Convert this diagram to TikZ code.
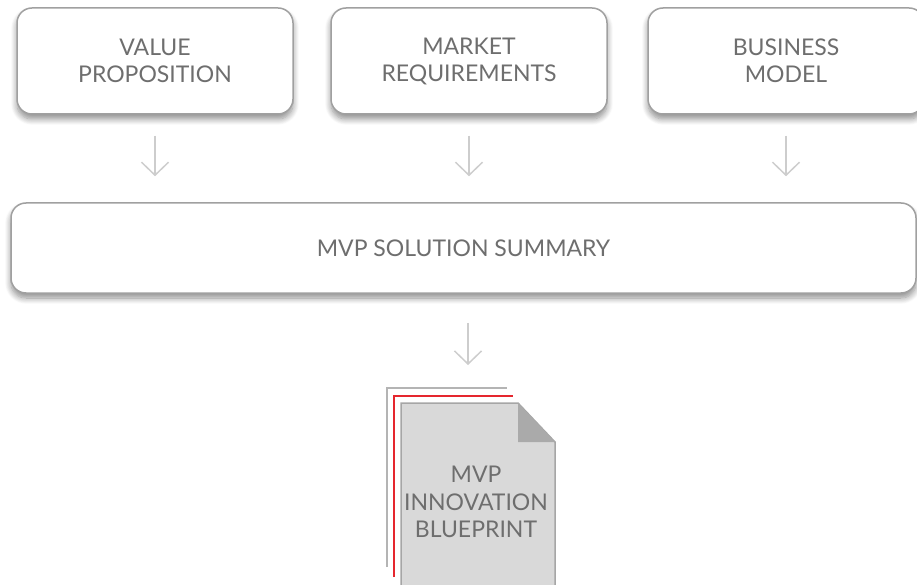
\documentclass[tikz,border=0pt]{standalone}
\usepackage{fontspec}
\setmainfont{Lato}
\usetikzlibrary{arrows.meta,shadows.blur}
\definecolor{txt}{HTML}{6E6E6E}
\definecolor{bord}{HTML}{A0A0A0}
\definecolor{arrc}{HTML}{CDCDCD}
\definecolor{pagefill}{HTML}{D9D9D9}
\definecolor{pagebord}{HTML}{A6A6A6}
\definecolor{foldfill}{HTML}{AAAAAA}
\definecolor{backline}{HTML}{B4B4B4}
\definecolor{redline}{HTML}{E5262E}
\begin{document}
\begin{tikzpicture}[x=1pt,y=-1pt,
  box/.style={draw=bord, line width=1.5pt, fill=white, rounded corners=15pt,
    align=center, text=txt, font=\fontsize{23}{27}\selectfont,
    blur shadow={shadow xshift=0pt, shadow yshift=-5pt, shadow blur radius=6pt, shadow blur steps=10, shadow opacity=45}},
  topbox/.style={box, minimum width=276pt, minimum height=106pt, inner sep=0pt},
  flow/.style={draw=arrc, line width=1.5pt, -{Straight Barb[length=13pt,width=27pt,line width=1.5pt]}},
  doctext/.style={align=center, text=txt, font=\fontsize{23}{27.5}\selectfont}]
\clip (0,0) rectangle (917,585);
\node[topbox] (vp) at (155,61) {VALUE\\PROPOSITION};
\node[topbox] (mr) at (469,61) {MARKET\\REQUIREMENTS};
\node[topbox] (bm) at (786,61) {BUSINESS\\MODEL};
\node[box, minimum width=905pt, minimum height=90pt, inner sep=0pt] (sum) at (463.5,248) {MVP SOLUTION SUMMARY};
% document icon
\draw[backline, line width=2pt] (387,567) -- (387,388) -- (507,388);
\draw[redline, line width=2pt] (394,577) -- (394,396) -- (513,396);
\draw[draw=pagebord, fill=pagefill, line width=1.5pt] (401,595) -- (401,403) -- (518,403) -- (555,442) -- (555,595);
\fill[foldfill] (518,403) -- (518,442) -- (555,442) -- cycle;
\coordinate (pagetop) at (468,403);
\node[doctext] (doc) at (476,502) {MVP\\INNOVATION\\BLUEPRINT};
% connectors
\draw[flow, shorten <=21pt, shorten >=26pt] (vp.south) -- (vp.south |- sum.north);
\draw[flow, shorten <=21pt, shorten >=26pt] (mr.south) -- (mr.south |- sum.north);
\draw[flow, shorten <=21pt, shorten >=26pt] (bm.south) -- (bm.south |- sum.north);
\draw[flow, shorten <=29pt, shorten >=38pt] (pagetop |- sum.south) -- (pagetop);
\end{tikzpicture}
\end{document}
